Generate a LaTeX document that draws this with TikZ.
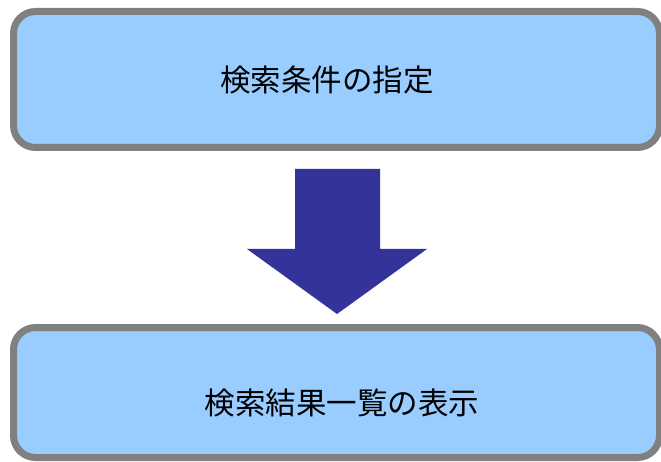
\documentclass[tikz,border=0pt]{standalone}
\usepackage{fontspec}
\newfontfamily\jpfont{Noto Sans CJK JP}
\definecolor{boxfill}{HTML}{99CCFF}
\definecolor{boxline}{HTML}{808080}
\definecolor{arrowfill}{HTML}{333399}
\begin{document}
\begin{tikzpicture}[x=1pt, y=-1pt,
	stage/.style = {draw=boxline, fill=boxfill, line width=7pt, rounded corners=22pt, inner sep=0pt, minimum width=646pt},
	label/.style = {font=\jpfont\fontsize{30.5}{36}\selectfont, inner sep=0pt}]
				\useasboundingbox (0,0) rectangle (661,462);
				\node[stage, minimum height=136pt] (cond) at (336.5,79.5) {};
				\node[stage, minimum height=130pt] (result) at (336.5,392.5) {};
				\node[label] (condtext) at (327,80) {検索条件の指定};
				\node[label] (resulttext) at (342,403) {検索結果一覧の表示};

				\fill[arrowfill] (295,169) -- (380,169) -- (380,249) -- (427,249)
				-- (337,314) -- (247,249) -- (295,249) -- cycle;
			\end{tikzpicture}
\end{document}
